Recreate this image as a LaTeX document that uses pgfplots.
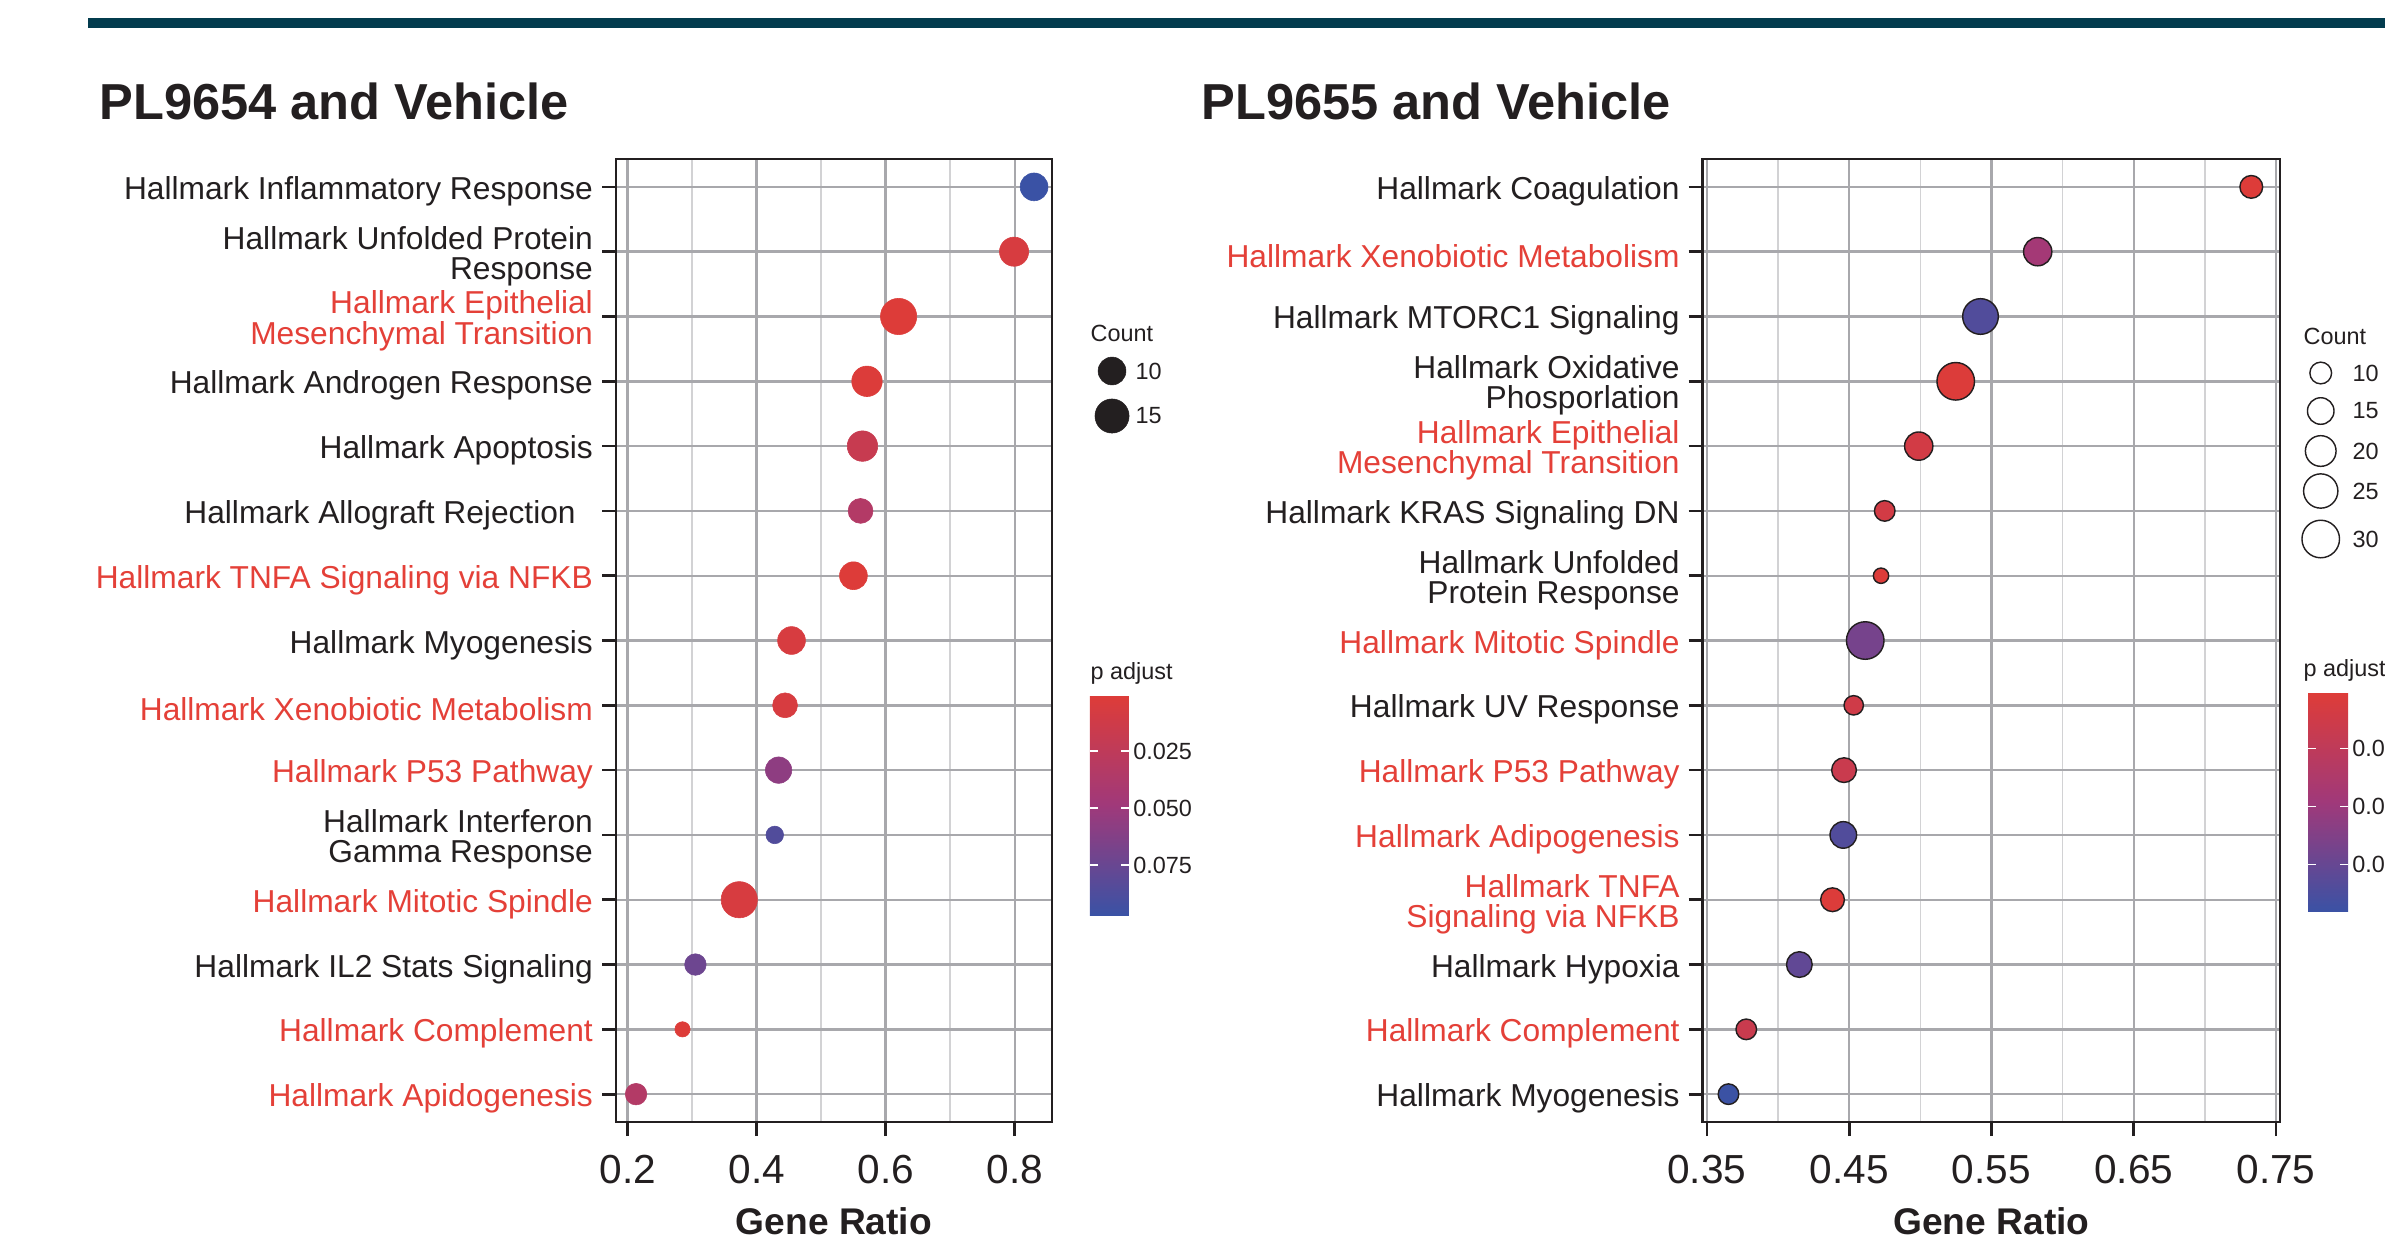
\documentclass[border=0pt]{standalone}
\usepackage{pgfplots}
\pgfplotsset{compat=1.18}
\usepackage{pgfplotstable}
\usepackage{fontspec}
\setmainfont{Liberation Sans}
\definecolor{lblred}{RGB}{228,64,56}
\definecolor{txt}{RGB}{35,31,32}
\definecolor{barteal}{RGB}{3,60,78}
\definecolor{gridmaj}{RGB}{168,168,172}
\definecolor{gridmin}{RGB}{210,210,212}

% left panel: PL9654 and Vehicle
\pgfplotstableread{
idx ratio count padj
1 0.830 10 0.0970
2 0.799 11 0.0060
3 0.620 17 0.0008
4 0.571 12 0.0015
5 0.564 12 0.0180
6 0.561 8 0.0340
7 0.550 10 0.0012
8 0.454 10 0.0060
9 0.444 8 0.0060
10 0.434 9 0.0570
11 0.428 4 0.0860
12 0.373 17 0.0060
13 0.305 6 0.0730
14 0.285 3 0.0010
15 0.213 6 0.0340
}\lefttab

% right panel: PL9655 and Vehicle
\pgfplotstableread{
idx ratio count padj
1 0.7326 11 0.0005
2 0.5825 17 0.0180
3 0.5423 27 0.0340
4 0.5249 30 0.0008
5 0.4989 17 0.0040
6 0.4750 9 0.0040
7 0.4724 5 0.0010
8 0.4613 30 0.0270
9 0.4532 8 0.0050
10 0.4464 13 0.0067
11 0.4459 15 0.0340
12 0.4383 12 0.0010
13 0.4150 14 0.0310
14 0.3777 9 0.0067
15 0.3652 9 0.0380
}\righttab

% size legends (picture pixel coordinates)
\pgfplotstableread{
x y c
1112 371 10
1112 416 15
}\leftleg
\pgfplotstableread{
x y c
2320.7 373 10
2320.7 411 15
2320.7 451 20
2320.7 491 25
2320.7 539 30
}\rightleg

\tikzset{legtext/.style={anchor=west, inner sep=0pt, text=txt, font=\fontsize{8.2}{9}\selectfont}}

\pgfplotsset{
  /pgf/number format/assume math mode=true,
  dotaxis/.style={
    scale only axis, height=337.05pt,
    ymin=0.57, ymax=15.43, y dir=reverse,
    ytick={1,...,15},
    tick pos=left, tick align=outside,
    major tick length=4.9pt, minor tick length=0pt,
    tick style={txt, line width=0.95pt},
    axis line style={txt, line width=0.9pt},
    xmajorgrids, ymajorgrids, xminorgrids,
    major grid style={gridmaj, line width=0.85pt},
    minor grid style={gridmin, line width=0.55pt},
    yticklabel style={font=\fontsize{11.1}{10.6}\selectfont, align=right, text=txt, inner xsep=3pt, yshift=-1.5pt},
    xticklabel style={font=\fontsize{14.2}{16}\selectfont, text=txt, yshift=-3.3pt},
    xlabel={Gene Ratio},
    xlabel style={font=\fontsize{13}{15}\selectfont\bfseries, text=txt, at={(axis description cs:0.5,0)}, anchor=center, yshift=-34.65pt},
    colormap={padj}{rgb255=(222,60,56) rgb255=(160,57,122) rgb255=(58,82,165)},
    colorbar,
  },
  cbar/.style={
    scale only axis,
    at={(parent axis.north east)}, anchor=north west,
    y dir=reverse,
    scaled y ticks=false,
    axis line style={draw=none},
    tick align=inside, ytick pos=both, yticklabel pos=right,
    major tick length=2.9pt,
    tick style={white, line width=0.6pt},
    yticklabel style={font=\fontsize{8.2}{9}\selectfont, text=txt, xshift=-2pt},
  },
  sizemap/.style={scatter, only marks, mark=*, point meta=explicit},
}

\begin{document}
\begin{tikzpicture}
\path[clip, use as bounding box] (0pt,0pt) rectangle (834.75pt,437.5pt);
\fill[barteal] (30.8pt,427.7pt) rectangle (834.75pt,431.2pt);
\node[anchor=base west, inner sep=0pt, text=txt, font=\fontsize{17.7}{20}\selectfont\bfseries] at (34.65pt,395.5pt) {PL9654 and Vehicle};
\node[anchor=base west, inner sep=0pt, text=txt, font=\fontsize{17.7}{20}\selectfont\bfseries] at (420.35pt,395.5pt) {PL9655 and Vehicle};

% ---------- left panel ----------
\begin{axis}[dotaxis,
  at={(215.6pt,44.8pt)}, anchor=south west, width=152.6pt,
  xmin=0.1819, xmax=0.8578,
  xtick={0.2,0.4,0.6,0.8}, minor xtick={0.3,0.5,0.7},
  xticklabels={0.2,0.4,0.6,0.8},
  yticklabels={
    {Hallmark Inflammatory Response},
    {Hallmark Unfolded Protein\\Response},
    {\color{lblred}Hallmark Epithelial\\\color{lblred}Mesenchymal Transition},
    {Hallmark Androgen Response},
    {Hallmark Apoptosis},
    {Hallmark Allograft Rejection\hspace*{6pt}},
    {\color{lblred}Hallmark TNFA Signaling via NFKB},
    {Hallmark Myogenesis},
    {\color{lblred}Hallmark Xenobiotic Metabolism},
    {\color{lblred}Hallmark P53 Pathway},
    {Hallmark Interferon\\Gamma Response},
    {\color{lblred}Hallmark Mitotic Spindle},
    {Hallmark IL2 Stats Signaling},
    {\color{lblred}Hallmark Complement},
    {\color{lblred}Hallmark Apidogenesis}},
  point meta min=0.0003, point meta max=0.097,
  colorbar style={cbar, xshift=4.76pt, yshift=-187.6pt, width=13.65pt, height=77pt,
    ytick={0.025,0.05,0.075},
    yticklabels={0.025,0.050,0.075}},
]
\addplot[sizemap,
  scatter/use mapped color={draw=mapped color, fill=mapped color, line width=0.2pt},
  visualization depends on={1.54*sqrt(\thisrow{count})\as\rad},
  scatter/@pre marker code/.append style={/tikz/mark size=\rad}]
  table[x=ratio, y=idx, meta=padj]{\lefttab};
\end{axis}

% ---------- right panel ----------
\begin{axis}[dotaxis,
  at={(595.95pt,44.8pt)}, anchor=south west, width=202.06pt,
  xmin=0.3471, xmax=0.7528,
  xtick={0.35,0.45,0.55,0.65,0.75}, minor xtick={0.4,0.5,0.6,0.7},
  xticklabels={0.35,0.45,0.55,0.65,0.75},
  yticklabels={
    {Hallmark Coagulation},
    {\color{lblred}Hallmark Xenobiotic Metabolism},
    {Hallmark MTORC1 Signaling},
    {Hallmark Oxidative\\Phosporlation},
    {\color{lblred}Hallmark Epithelial\\\color{lblred}Mesenchymal Transition},
    {Hallmark KRAS Signaling DN},
    {Hallmark Unfolded\\Protein Response},
    {\color{lblred}Hallmark Mitotic Spindle},
    {Hallmark UV Response},
    {\color{lblred}Hallmark P53 Pathway},
    {\color{lblred}Hallmark Adipogenesis},
    {\color{lblred}Hallmark TNFA\\\color{lblred}Signaling via NFKB},
    {Hallmark Hypoxia},
    {\color{lblred}Hallmark Complement},
    {Hallmark Myogenesis}},
  point meta min=0.0003, point meta max=0.0382,
  colorbar style={cbar, xshift=1.26pt, yshift=-186.7pt, width=14pt, height=76.8pt,
    ytick={0.01,0.02,0.03},
    yticklabels={0.010,0.020,0.030}},
]
\addplot[sizemap,
  scatter/use mapped color={draw=txt, fill=mapped color, line width=0.5pt},
  visualization depends on={1.2*sqrt(\thisrow{count})\as\rad},
  scatter/@pre marker code/.append style={/tikz/mark size=\rad}]
  table[x=ratio, y=idx, meta=padj]{\righttab};
\end{axis}

% ---------- legends (overlay axis in picture pixels) ----------
\begin{axis}[at={(0pt,0pt)}, anchor=south west, scale only axis,
  width=834.75pt, height=437.5pt,
  xmin=0, xmax=2385, ymin=0, ymax=1250, y dir=reverse,
  hide axis, clip=false]
\addplot[sizemap,
  scatter/use mapped color={draw=txt, fill=txt, line width=0.2pt},
  visualization depends on={1.54*sqrt(\thisrow{c})\as\rad},
  scatter/@pre marker code/.append style={/tikz/mark size=\rad}]
  table[x=x, y=y, meta=c]{\leftleg};
\addplot[sizemap,
  scatter/use mapped color={draw=txt, fill=white, line width=0.5pt},
  visualization depends on={1.2*sqrt(\thisrow{c})\as\rad},
  scatter/@pre marker code/.append style={/tikz/mark size=\rad}]
  table[x=x, y=y, meta=c]{\rightleg};
\node[legtext] at (axis cs:1135,371) {10};
\node[legtext] at (axis cs:1135,416) {15};
\node[legtext] at (axis cs:2352,373) {10};
\node[legtext] at (axis cs:2352,411) {15};
\node[legtext] at (axis cs:2352,451) {20};
\node[legtext] at (axis cs:2352,491) {25};
\node[legtext] at (axis cs:2352,539) {30};
\node[legtext] at (axis cs:1090,333) {Count};
\node[legtext] at (axis cs:1090,673) {p adjust};
\node[legtext] at (axis cs:2303,336) {Count};
\node[legtext] at (axis cs:2303,670) {p adjust};
\end{axis}
\end{tikzpicture}
\end{document}
